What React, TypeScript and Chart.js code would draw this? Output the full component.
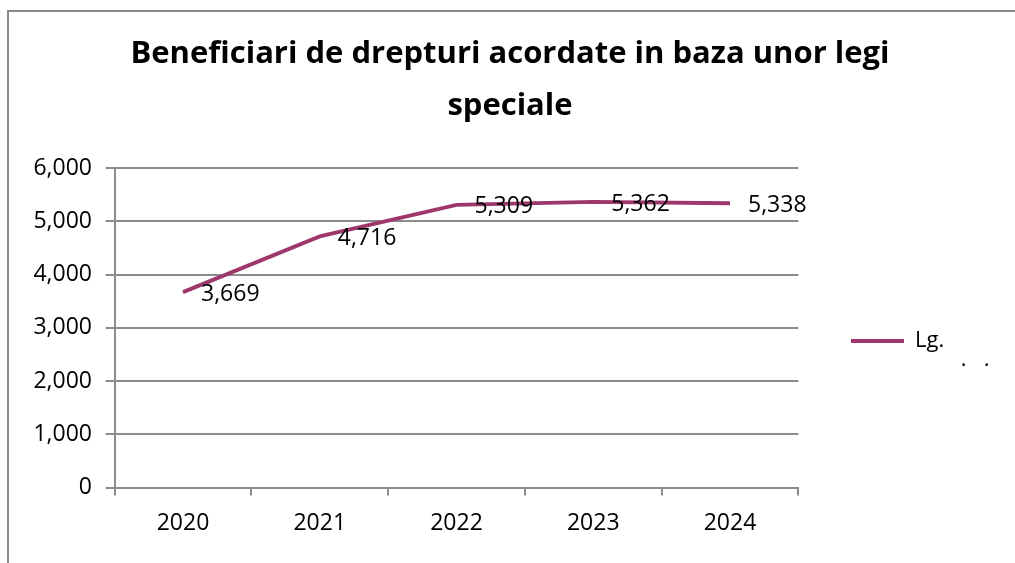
import React, { useEffect, useRef } from 'react';
import { Chart, registerables } from 'chart.js';

Chart.register(...registerables);

// ---- data ----
const TITLE_LINES = ['Beneficiari de drepturi acordate in baza unor legi', 'speciale'];
const YEARS = ['2020', '2021', '2022', '2023', '2024'];
const VALUES = [3669, 4716, 5309, 5362, 5338];
const SERIES_LABEL = 'Lg.';
const LEGEND_SECOND_LINE = '        .   .';
const Y_MIN = 0;
const Y_MAX = 6000;
const Y_STEP = 1000;

// ---- style ----
const FONT = "'Open Sans', sans-serif";
const LINE_COLOR = '#9E386C';
const GRID_COLOR = '#8C8C8C';
const FRAME_COLOR = '#8A8A8A';

const valueLabels = {
  id: 'valueLabels',
  afterDatasetsDraw(chart: any) {
    const ctx = chart.ctx;
    const meta = chart.getDatasetMeta(0);
    const data = chart.data.datasets[0].data as number[];
    ctx.save();
    ctx.font = `23px ${FONT}`;
    ctx.fillStyle = '#000';
    ctx.textAlign = 'left';
    ctx.textBaseline = 'middle';
    meta.data.forEach((pt: any, i: number) => {
      ctx.fillText(Number(data[i]).toLocaleString('en-US'), pt.x + 18, pt.y + 2);
    });
    ctx.restore();
  },
};

export default function App() {
  const ref = useRef<HTMLCanvasElement | null>(null);

  useEffect(() => {
    if (!ref.current) return;
    const chart = new Chart(ref.current, {
      type: 'line',
      data: {
        labels: YEARS,
        datasets: [
          {
            label: SERIES_LABEL,
            data: VALUES,
            borderColor: LINE_COLOR,
            backgroundColor: LINE_COLOR,
            borderWidth: 3.8,
            pointRadius: 0,
            pointHoverRadius: 0,
            tension: 0,
            fill: false,
          },
        ],
      },
      options: {
        responsive: false,
        animation: false,
        events: [],
        locale: 'en-US',
        layout: { padding: { left: 0, right: 4, top: 0, bottom: 0 } },
        plugins: {
          tooltip: { enabled: false },
          title: {
            display: true,
            text: TITLE_LINES,
            color: '#000',
            font: { family: FONT, size: 31, weight: 'bold', lineHeight: 52 / 31 },
            padding: { top: 16, bottom: 36 },
          },
          legend: {
            position: 'right',
            fullSize: false,
            maxWidth: 212.6,
            title: {
              display: true,
              text: '',
              font: { size: 10, lineHeight: 1 },
              padding: { top: 32.9, bottom: 0 },
            },
            labels: {
              boxWidth: 53,
              boxHeight: 0,
              padding: 52.6,
              color: '#000',
              font: { family: FONT, size: 22, lineHeight: 19.2 / 22 },
              generateLabels: (c: any) => {
                const items = (Chart.defaults.plugins.legend.labels as any).generateLabels(c);
                return items.map((it: any) => ({
                  ...it,
                  text: [SERIES_LABEL, LEGEND_SECOND_LINE + ' '.repeat(30)],
                }));
              },
            },
          },
        },
        scales: {
          x: {
            type: 'category',
            offset: true,
            grid: {
              offset: true,
              drawOnChartArea: false,
              drawTicks: true,
              tickLength: 8,
              color: GRID_COLOR,
              lineWidth: 2,
            },
            border: { display: true, color: GRID_COLOR, width: 2 },
            ticks: {
              color: '#000',
              font: { family: FONT, size: 23 },
              padding: 14.2,
              maxRotation: 0,
              autoSkip: false,
            },
            afterFit: (s: any) => {
              s.height = 75.5;
            },
          },
          y: {
            min: Y_MIN,
            max: Y_MAX,
            ticks: {
              stepSize: Y_STEP,
              color: '#000',
              font: { family: FONT, size: 23 },
              padding: 13.6,
            },
            grid: {
              color: GRID_COLOR,
              lineWidth: 2,
              tickLength: 9,
              drawTicks: true,
            },
            border: { display: true, color: GRID_COLOR, width: 2 },
            afterFit: (s: any) => {
              s.width = 105.6;
            },
          },
        },
      } as any,
      plugins: [valueLabels],
    });
    let alive = true;
    if ((document as any).fonts && (document as any).fonts.ready) {
      (document as any).fonts.ready.then(() => {
        if (alive) chart.update();
      });
    }
    return () => {
      alive = false;
      chart.destroy();
    };
  }, []);

  return (
    <div
      style={{
        position: 'fixed',
        left: 7,
        top: 10,
        right: 0,
        bottom: 0,
        borderLeft: `2px solid ${FRAME_COLOR}`,
        borderTop: `2px solid ${FRAME_COLOR}`,
        background: '#fff',
        overflow: 'hidden',
      }}
    >
      <canvas ref={ref} width={1006} height={551} style={{ display: 'block' }} />
    </div>
  );
}
